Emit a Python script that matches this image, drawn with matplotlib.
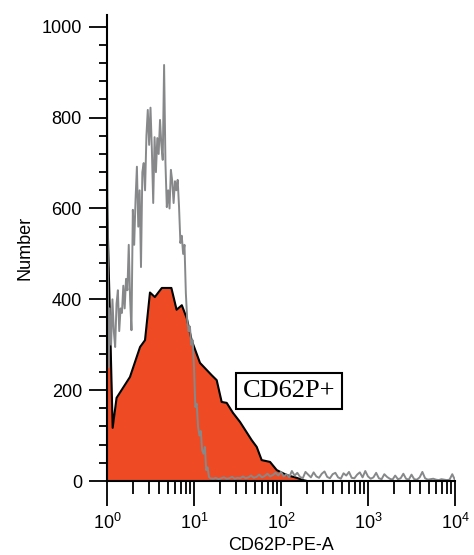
import numpy as np
import matplotlib
matplotlib.use("Agg")
import matplotlib.pyplot as plt
from matplotlib.ticker import FixedLocator, MultipleLocator, LogLocator, NullFormatter

# ---------------- data ----------------
# Grey (control) histogram: 64 channels per decade
grey_peak_counts = [880, 250, 380, 300, 400, 330, 295, 390, 420, 330,
                    380, 370, 430, 380, 445, 420, 520, 400, 332, 597,
                    520, 620, 692, 560, 640, 471, 680, 700, 640, 760,
                    817, 740, 822, 730, 612, 757, 680, 755, 720, 795,
                    740, 707, 916, 700, 603, 640, 600, 685, 660, 612,
                    660, 640, 663, 603, 524, 540, 500, 520, 414, 355,
                    330, 340, 300, 310, 250, 163, 170, 119, 100, 110,
                    68, 60, 75, 24, 30, 9, 6]
grey_tail_counts = [5, 7, 4, 6, 8, 5, 6, 9, 5, 7, 6, 10, 6, 8, 12, 7, 9, 14, 8, 11,
                    16, 10, 13, 18, 12,
                    20, 10, 15, 8, 22, 12, 18, 9, 6, 20, 14, 8, 19, 10, 7, 16,
                    21, 9, 6, 15, 18, 8, 5, 17, 12, 20, 7, 6, 14, 19, 8, 22,
                    10, 5, 8, 18, 6, 4, 15, 9, 5, 3, 12, 4, 6, 16, 5, 3, 14, 4,
                    3, 8, 20, 6, 3, 4, 5, 3, 2, 4, 3, 2, 3, 15, 2]
channels_per_decade = 64

# Red (CD62P+) histogram: log10 position and count
red_log = [0.0, 0.065, 0.11, 0.264, 0.38, 0.437, 0.494, 0.55, 0.63, 0.74,
           0.80, 0.86, 0.916, 0.973, 1.069, 1.203, 1.261, 1.318, 1.376, 1.448,
           1.529, 1.663, 1.721, 1.778, 1.874, 1.951, 2.066, 2.18, 2.253, 2.3]
red_counts = [620, 117, 183, 229, 295, 310, 415, 405, 425, 425,
              377, 387, 359, 310, 260, 233, 222, 174, 172, 150,
              130, 90, 75, 46, 42, 24, 13, 7, 2, 0]

y_ticks = [0, 200, 400, 600, 800, 1000]
x_ticks = [1, 10, 100, 1000, 10000]
x_ticklabels = [r"$\mathregular{10^{0}}$", r"$\mathregular{10^{1}}$", r"$\mathregular{10^{2}}$",
                r"$\mathregular{10^{3}}$", r"$\mathregular{10^{4}}$"]
gate_label = "CD62P+"
x_label = "CD62P-PE-A"
y_label = "Number"

# ---------------- style ----------------
plt.rcParams["font.family"] = ["Liberation Sans", "DejaVu Sans"]
plt.rcParams["mathtext.fontset"] = "custom"
plt.rcParams["mathtext.rm"] = "Liberation Sans"
plt.rcParams["mathtext.it"] = "Liberation Sans"

fig = plt.figure(figsize=(4.74, 5.55), dpi=100)
ax = fig.add_axes([107 / 474, 74 / 555, 348 / 474, 466 / 555])

grey_ch = np.concatenate([np.arange(len(grey_peak_counts)),
                          np.arange(len(grey_tail_counts)) * 2 + 78])
grey_vals = np.array(grey_peak_counts + grey_tail_counts, dtype=float)
grey_x = 10 ** (grey_ch / channels_per_decade)

red_x = 10 ** np.array(red_log)
red_y = np.array(red_counts, dtype=float)

ax.fill_between(red_x, 0, red_y, color="#EE4B24", lw=0, zorder=2)
ax.plot(red_x, red_y, color="black", lw=1.5, zorder=3)
ax.plot(grey_x, grey_vals, color="#86888A", lw=1.4, zorder=4)

ax.set_xscale("log")
ax.set_xlim(1, 1e4)
ax.set_ylim(0, 1026)

for s in ["top", "right"]:
    ax.spines[s].set_visible(False)
for s in ["left", "bottom"]:
    ax.spines[s].set_linewidth(1.5)
    ax.spines[s].set_zorder(5)

ax.yaxis.set_major_locator(FixedLocator(y_ticks))
ax.yaxis.set_minor_locator(MultipleLocator(40))
ax.xaxis.set_major_locator(FixedLocator(x_ticks))
ax.xaxis.set_minor_locator(LogLocator(base=10, subs=np.arange(2, 10)))
ax.xaxis.set_minor_formatter(NullFormatter())
ax.set_xticklabels(x_ticklabels)

ax.tick_params(axis="y", which="major", length=13, width=1.3, labelsize=13, pad=5)
ax.tick_params(axis="y", which="minor", length=6, width=1.3)
ax.tick_params(axis="x", which="major", length=18, width=1.3, labelsize=13, pad=5)
ax.tick_params(axis="x", which="minor", length=9.5, width=1.3)

ax.set_ylabel(y_label, fontsize=13, labelpad=6)
ax.set_xlabel(x_label, fontsize=13, labelpad=3)

ax.text((289 - 107) / 348, (481 - 391) / 466, gate_label, transform=ax.transAxes,
        ha="center", va="center", fontsize=19, family="Liberation Serif",
        bbox=dict(boxstyle="square,pad=0.25", fc="white", ec="black", lw=1.5),
        zorder=6)

fig.savefig("out.png", dpi=100)
